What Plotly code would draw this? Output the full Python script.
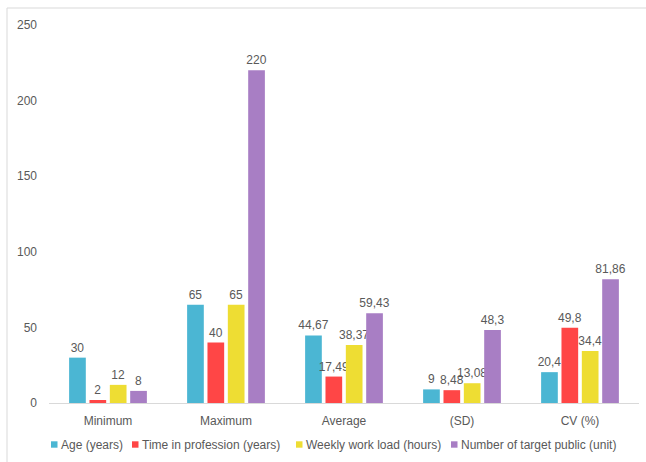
import plotly.graph_objects as go

categories = ["Minimum", "Maximum", "Average", "(SD)", "CV (%)"]
series_names = ["Age (years)", "Time in profession (years)", "Weekly work load (hours)", "Number of target public (unit)"]
age = [30, 65, 44.67, 9, 20.4]
time_prof = [2, 40, 17.49, 8.48, 49.8]
workload = [12, 65, 38.37, 13.08, 34.4]
target = [8, 220, 59.43, 48.3, 81.86]
colors = ["#4BB6D3", "#FF4646", "#EEDD33", "#A87EC4"]

W, H = 646, 462
ML, MR, MT, MB = 49, 7, 25, 59
PW, PH = W - ML - MR, H - MT - MB

def px_x(p):
    return (p - ML) / PW

def px_y(p):
    return (H - MB - p) / PH

def fmt(v):
    return ("%g" % v).replace(".", ",")

fig = go.Figure()
for name, vals, c in zip(series_names, [age, time_prof, workload, target], colors):
    fig.add_trace(go.Bar(
        x=categories, y=vals, name=name, marker=dict(color=c, line=dict(width=0)),
        text=[fmt(v) for v in vals], textposition="outside", cliponaxis=False,
        textfont=dict(color="#595959", size=12), showlegend=False,
    ))

# custom legend (small squares + labels), laid out in pixels
legend_sq_x = [51, 132, 296, 451]
legend_y = 444.5
shapes = [
    dict(type="rect", xref="paper", yref="paper", x0=px_x(7), x1=px_x(700), y0=px_y(520), y1=px_y(8),
         line=dict(color="#D9D9D9", width=1), fillcolor="rgba(0,0,0,0)", layer="below"),
]
annotations = []
for sx, name, c in zip(legend_sq_x, series_names, colors):
    shapes.append(dict(type="rect", xref="paper", yref="paper",
                       x0=px_x(sx), x1=px_x(sx + 6.5), y0=px_y(legend_y + 3.2), y1=px_y(legend_y - 3.2),
                       line=dict(width=0), fillcolor=c))
    annotations.append(dict(text=name, xref="paper", yref="paper", x=px_x(sx + 8), y=px_y(legend_y),
                            xanchor="left", yanchor="middle", showarrow=False,
                            font=dict(size=12, color="#595959")))

fig.update_layout(
    width=W, height=H,
    margin=dict(l=ML, r=MR, t=MT, b=MB, autoexpand=False),
    paper_bgcolor="white", plot_bgcolor="white",
    barmode="group", bargap=0.31, bargroupgap=0.18,
    uniformtext=dict(minsize=12, mode="show"),
    font=dict(family="Liberation Sans, Arial, sans-serif", size=12, color="#595959"),
    showlegend=False,
    xaxis=dict(showgrid=False, showline=True, linecolor="#D9D9D9", linewidth=1, ticks="",
               ticklabelstandoff=7, tickfont=dict(size=12, color="#595959")),
    yaxis=dict(range=[0, 250], dtick=50, showgrid=False, zeroline=False, showline=False,
               ticks="", ticklabelstandoff=11, tickfont=dict(size=12, color="#595959")),
    shapes=shapes,
    annotations=annotations,
)

fig.write_html("out.html")
